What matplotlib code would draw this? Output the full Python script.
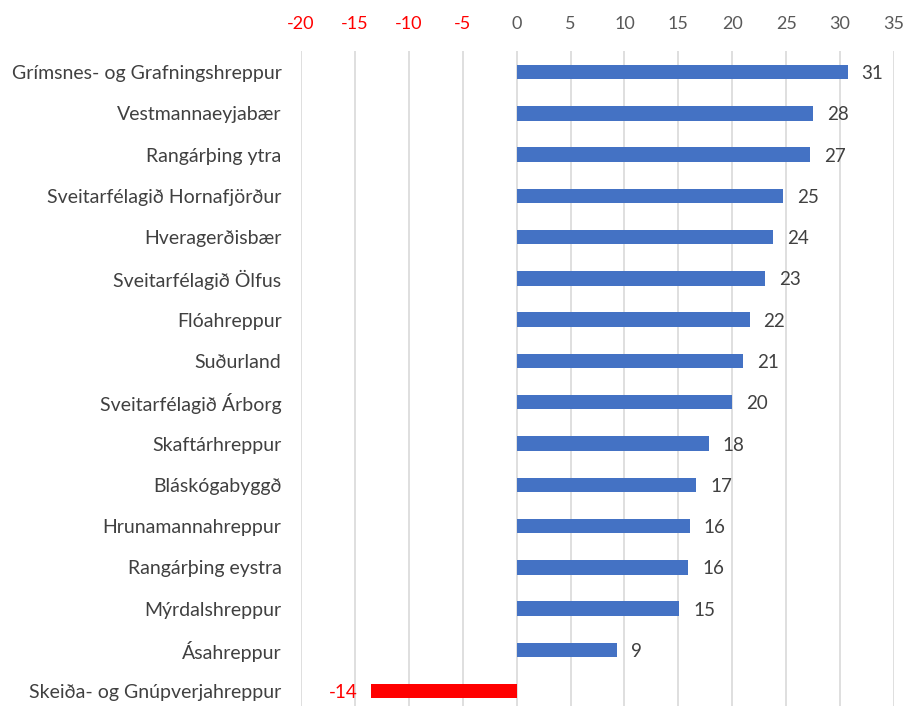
import matplotlib
matplotlib.use("Agg")
import matplotlib.pyplot as plt

categories = [
    "Grímsnes- og Grafningshreppur",
    "Vestmannaeyjabær",
    "Rangárþing ytra",
    "Sveitarfélagið Hornafjörður",
    "Hveragerðisbær",
    "Sveitarfélagið Ölfus",
    "Flóahreppur",
    "Suðurland",
    "Sveitarfélagið Árborg",
    "Skaftárhreppur",
    "Bláskógabyggð",
    "Hrunamannahreppur",
    "Rangárþing eystra",
    "Mýrdalshreppur",
    "Ásahreppur",
    "Skeiða- og Gnúpverjahreppur",
]
values = [30.7, 27.5, 27.2, 24.75, 23.8, 23.06, 21.6, 21.0, 19.95, 17.8,
          16.67, 16.08, 15.9, 15.1, 9.35, -13.5]
xticks = [-20, -15, -10, -5, 0, 5, 10, 15, 20, 25, 30, 35]

plt.rcParams['font.family'] = ['Lato', 'DejaVu Sans']

W, H = 906, 706
fig = plt.figure(figsize=(W / 100, H / 100), dpi=100)
left_px, right_px, top_px, bot_px = 301, 894, 51, 706
ax = fig.add_axes([left_px / W, 1 - bot_px / H, (right_px - left_px) / W, (bot_px - top_px) / H])

blue = "#4472C4"
red = "#FF0000"
idx = list(range(len(categories)))
colors = [red if v < 0 else blue for v in values]
ax.barh(idx, values, height=0.35, color=colors, zorder=3)

ax.set_xlim(-20, 35)
ax.set_ylim(15.36, -0.51)
ax.set_xticks(xticks)
ax.set_xticklabels([str(t) for t in xticks])
ax.xaxis.tick_top()
ax.tick_params(axis='x', length=0, pad=14, labelsize=13)
for lbl, t in zip(ax.get_xticklabels(), xticks):
    lbl.set_color(red if t < 0 else "#595959")

ax.set_yticks(idx)
ax.set_yticklabels(categories, va='center_baseline')
ax.tick_params(axis='y', length=0, pad=14, labelsize=14, labelcolor="#404040")

ax.grid(axis='x', color="#D9D9D9", linewidth=1.2, zorder=0)
ax.grid(axis='y', visible=False)
for s in ax.spines.values():
    s.set_visible(False)

for i, v in zip(idx, values):
    lab = f"{round(v):d}"
    if v >= 0:
        ax.annotate(lab, (v, i), xytext=(10, 0), textcoords="offset points",
                    ha='left', va='center_baseline', fontsize=13.5, color="#404040")
    else:
        ax.annotate(lab, (v, i), xytext=(-10, 0), textcoords="offset points",
                    ha='right', va='center_baseline', fontsize=13.5, color=red)

fig.savefig("out.png", dpi=100)
